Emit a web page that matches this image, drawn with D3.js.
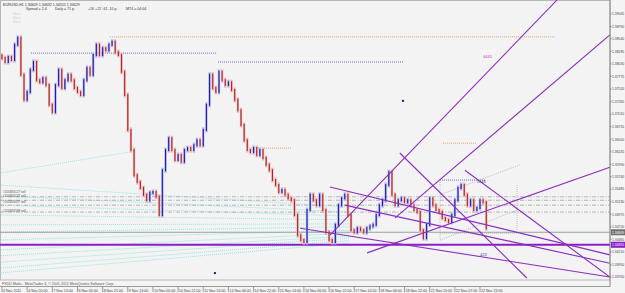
<!DOCTYPE html>
<html>
<head>
<meta charset="utf-8">
<script src="https://cdn.jsdelivr.net/npm/d3@7"></script>
<style>
  body { margin: 0; background: #f4f4f4; }
  svg { display: block; font-family: "Liberation Sans", Arial, sans-serif; }
</style>
</head>
<body>
<svg id="chart" width="625" height="293"></svg>
<script>
// EURUSD closes, one per bar (left to right)
const closes = [
  1.3815, 1.3807, 1.3817, 1.3811, 1.3842, 1.3856, 1.3781, 1.3730, 1.3746, 1.3791,
  1.3807, 1.3770, 1.3766, 1.3774, 1.3760, 1.3720, 1.3705, 1.3760, 1.3791, 1.3754,
  1.3770, 1.3781, 1.3770, 1.3754, 1.3746, 1.3740, 1.3770, 1.3795, 1.3781, 1.3821,
  1.3842, 1.3821, 1.3835, 1.3831, 1.3842, 1.3848, 1.3827, 1.3821, 1.3787, 1.3740,
  1.3669, 1.3628, 1.3577, 1.3563, 1.3551, 1.3537, 1.3526, 1.3541, 1.3543, 1.3533,
  1.3496, 1.3587, 1.3628, 1.3652, 1.3628, 1.3608, 1.3618, 1.3604, 1.3628, 1.3632,
  1.3628, 1.3638, 1.3648, 1.3638, 1.3669, 1.3720, 1.3781, 1.3754, 1.3746, 1.3787,
  1.3770, 1.3760, 1.3766, 1.3750, 1.3730, 1.3709, 1.3679, 1.3648, 1.3628, 1.3624,
  1.3632, 1.3618, 1.3628, 1.3612, 1.3598, 1.3587, 1.3567, 1.3557, 1.3543, 1.3547,
  1.3537, 1.3530, 1.3526, 1.3496, 1.3455, 1.3445, 1.3441, 1.3506, 1.3537, 1.3526,
  1.3516, 1.3537, 1.3506, 1.3461, 1.3445, 1.3441, 1.3476, 1.3516, 1.3530, 1.3537,
  1.3496, 1.3465, 1.3461, 1.3469, 1.3465, 1.3461, 1.3469, 1.3473, 1.3476, 1.3496,
  1.3516, 1.3526, 1.3557, 1.3583, 1.3537, 1.3516, 1.3526, 1.3530, 1.3522, 1.3526,
  1.3516, 1.3506, 1.3502, 1.3465, 1.3449, 1.3476, 1.3530, 1.3516, 1.3506, 1.3502,
  1.3490, 1.3486, 1.3482, 1.3496, 1.3526, 1.3551, 1.3557, 1.3537, 1.3516, 1.3526,
  1.3506, 1.3510, 1.3526, 1.3522, 1.3469
];
const firstOpen = 1.3820;

const timeLabels = [
  '4 Nov 2011', '4 Nov 20:00', '7 Nov 13:00', '8 Nov 05:00', '8 Nov 21:00',
  '9 Nov 13:00', '10 Nov 05:00', '10 Nov 21:00', '11 Nov 13:00', '14 Nov 06:00',
  '14 Nov 22:00', '15 Nov 14:00', '16 Nov 06:00', '16 Nov 22:00', '17 Nov 14:00',
  '18 Nov 06:00', '18 Nov 22:00', '21 Nov 15:00', '22 Nov 07:00', '22 Nov 23:00'
];
const priceTicks = [
  1.39045, 1.38790, 1.38540, 1.38285, 1.38030, 1.37775, 1.37520, 1.37265, 1.37010,
  1.36755, 1.36500, 1.36245, 1.35990, 1.35740, 1.35485, 1.35230, 1.34975, 1.34720,
  1.34465, 1.34210, 1.33950, 1.33700
];

const bidPrice = 1.34609;
const purpleLevel = 1.34355;

const orderLevels = [1.3533, 1.3526, 1.3516, 1.3502];
const orderNames = ['#205816127 sell', '#205816137 sell', '#205816697 sell', '#205816588 sell'];
const orderLabelPrices = [1.3541, 1.3532, 1.3520, 1.3503];

// dotted horizontal levels: [fromBar, toBar, price, colour]
const dottedLevels = [
  [34.3, 175.8, 1.3858, '#d08a5a'],
  [9.2, 68.4, 1.3825, '#4a4ab8'],
  [68.7, 127.8, 1.3807, '#4a4ab8'],
  [81.4, 92.2, 1.3632, '#d08a5a'],
  [140.2, 151.0, 1.3642, '#d08a5a'],
  [139.3, 153.6, 1.3567, '#4a4ab8']
];

// purple trend lines: [bar0, price0, bar1, price1]
const trendLines = [
  [104.3, 1.3455, 176.5, 1.3933],
  [125.0, 1.3490, 193.3, 1.3862],
  [116.1, 1.3419, 193.3, 1.3593],
  [126.5, 1.3622, 166.9, 1.3368],
  [104.3, 1.3553, 193.3, 1.3415],
  [109.0, 1.3516, 193.3, 1.3398],
  [94.8, 1.3469, 193.3, 1.3370],
  [147.2, 1.3587, 193.3, 1.3370]
];

// cyan dotted fan lines: [bar0, price0, bar1, price1]
const cyanLines = [
  [-1, 1.3581, 40.7, 1.3624],
  [-1, 1.3557, 110.6, 1.3512],
  [-1, 1.3535, 110.6, 1.3502],
  [-1, 1.3516, 110.6, 1.3494],
  [-1, 1.3496, 110.6, 1.3486],
  [-1, 1.3476, 110.6, 1.3478],
  [-1, 1.3461, 110.6, 1.3472],
  [-1, 1.3445, 110.6, 1.3465],
  [-1, 1.3425, 110.6, 1.3459],
  [-1, 1.3413, 110.6, 1.3453],
  [-1, 1.3400, 110.6, 1.3449],
  [-1, 1.3388, 110.6, 1.3444],
  [-1, 1.3378, 110.6, 1.3439]
];

// grey dotted channel lines
const channelLines = [
  [139.3, 1.3445, 163.8, 1.3506],
  [139.3, 1.3537, 164.7, 1.3598],
  [139.3, 1.3567, 139.3, 1.3445],
  [163.8, 1.3557, 163.8, 1.3465],
  [139.3, 1.3459, 163.8, 1.3459]
];

const notes = [
  [153, 1.3815, '6445', '#c040c0'],
  [151, 1.3562, '1048', '#4040b0'],
  [152, 1.3412, '423', '#4040b0']
];
const markers = [[67.7, 1.3378], [127.5, 1.3728]];

const svg = d3.select('#chart');
const W = 625, H = 293;
const axisX = 610, plotBottom = 280;
const fs = 3.6;

const x = d3.scaleLinear().domain([0, 152]).range([2, 480]);
const y = d3.scaleLinear().domain([1.33700, 1.39045]).range([277, 14]);

svg.append('rect').attr('width', W).attr('height', H).attr('fill', '#f4f4f4');
svg.append('rect').attr('x', 0.5).attr('y', 0.5).attr('width', axisX - 0.5).attr('height', plotBottom - 0.5)
  .attr('fill', '#f3f3f3').attr('stroke', '#b8b8b8');

const clip = svg.append('clipPath').attr('id', 'clip');
clip.append('rect').attr('x', 0).attr('y', 0).attr('width', axisX).attr('height', plotBottom);
const plot = svg.append('g').attr('clip-path', 'url(#clip)');

const seg = (g, d, color, w, dash) => g.append('line')
  .attr('x1', x(d[0])).attr('y1', y(d[1])).attr('x2', x(d[2])).attr('y2', y(d[3]))
  .attr('stroke', color).attr('stroke-width', w).attr('stroke-dasharray', dash || null);

const tinyText = (g, px, py, str, color, size) => g.append('text')
  .attr('x', px).attr('y', py).attr('font-size', size || fs).attr('fill', color).text(str);

// cyan fan
cyanLines.forEach(d => seg(plot, d, '#7fdede', 0.8, '1,1'));

// order levels
orderLevels.forEach(p => {
  plot.append('line').attr('x1', 0).attr('x2', axisX).attr('y1', y(p)).attr('y2', y(p))
    .attr('stroke', '#9a9a9a').attr('stroke-width', 0.7).attr('stroke-dasharray', '4,1.5,1,1.5');
});
orderNames.forEach((t, i) => tinyText(plot, 3, y(orderLabelPrices[i]), t, '#555', 3.1));

// bid line and purple level
plot.append('line').attr('x1', 0).attr('x2', axisX).attr('y1', y(bidPrice)).attr('y2', y(bidPrice))
  .attr('stroke', '#8c9a9a').attr('stroke-width', 0.9);
plot.append('line').attr('x1', 0).attr('x2', axisX).attr('y1', y(purpleLevel)).attr('y2', y(purpleLevel))
  .attr('stroke', '#8a1fc8').attr('stroke-width', 2);

// dotted levels
dottedLevels.forEach(d => {
  plot.append('line').attr('x1', x(d[0])).attr('x2', x(d[1])).attr('y1', y(d[2])).attr('y2', y(d[2]))
    .attr('stroke', d[3]).attr('stroke-width', 0.8).attr('stroke-dasharray', '1,1');
});

channelLines.forEach(d => seg(plot, d, '#a8a8a8', 0.7, '1,1'));

// candles
const bars = closes.map((c, i) => ({ i, o: i === 0 ? firstOpen : closes[i - 1], c }));
const cw = 2.3;
const candle = plot.selectAll('g.bar').data(bars).enter().append('g');
candle.append('rect')
  .attr('x', d => x(d.i) - cw / 2)
  .attr('y', d => Math.min(y(d.o), y(d.c)) - 2.5)
  .attr('width', cw)
  .attr('height', d => Math.abs(y(d.o) - y(d.c)) + 5)
  .attr('fill', d => d.c >= d.o ? '#b0b0e8' : '#eeb0b0');
candle.append('line')
  .attr('x1', d => x(d.i)).attr('x2', d => x(d.i))
  .attr('y1', d => Math.min(y(d.o), y(d.c)) - 1)
  .attr('y2', d => Math.max(y(d.o), y(d.c)) + 1)
  .attr('stroke', d => d.c >= d.o ? '#1c1cb0' : '#a82a2a')
  .attr('stroke-width', 1.1);

// trend lines
trendLines.forEach(d => seg(plot, d, '#8a2cc0', 1.1));

notes.forEach(d => tinyText(plot, x(d[0]), y(d[1]), d[2], d[3], 4));
markers.forEach(d => {
  plot.append('rect').attr('x', x(d[0]) - 1).attr('y', y(d[1]) - 1).attr('width', 2).attr('height', 2)
    .attr('fill', '#1a1a80');
});

// header
tinyText(svg, 3, 5.5, 'EURUSD,H1  1.34609 1.34632 1.34555 1.34629', '#333');
[['Spread = 2.4', 26], ['Daily  = 71 p.', 55], ['+16 +22 -61 -10 p.', 88], ['MT4  = 04:04', 126]]
  .forEach(t => tinyText(svg, t[1], 10, t[0], '#333'));
[14.5, 18.5, 22.5].forEach(v => tinyText(svg, 13, v, 'Next', '#d0d0d0'));

// price axis
svg.append('line').attr('x1', axisX).attr('x2', axisX).attr('y1', 0).attr('y2', 287)
  .attr('stroke', '#888').attr('stroke-width', 1);
const yAxis = svg.append('g');
priceTicks.forEach(p => {
  yAxis.append('line').attr('x1', axisX).attr('x2', axisX + 1.5).attr('y1', y(p)).attr('y2', y(p)).attr('stroke', '#888');
  tinyText(yAxis, axisX + 2, y(p) + 1.3, p.toFixed(5), '#444', 3.4);
});
[[bidPrice, '#707070'], [purpleLevel, '#8a1fc8']].forEach(d => {
  yAxis.append('rect').attr('x', axisX + 1).attr('y', y(d[0]) - 3).attr('width', 14).attr('height', 6).attr('fill', d[1]);
  tinyText(yAxis, axisX + 2, y(d[0]) + 1.3, d[0].toFixed(5), '#fff', 3.4);
});

// footer
tinyText(svg, 2, 284.5, 'FXDD Malta - MetaTrader 4, \u00a9 2001-2011 MetaQuotes Software Corp.', '#555');
svg.append('line').attr('x1', 0).attr('x2', axisX).attr('y1', 286.5).attr('y2', 286.5).attr('stroke', '#999');
const xAxis = svg.append('g');
timeLabels.forEach((t, k) => {
  const px = x(k * 8);
  xAxis.append('line').attr('x1', px).attr('x2', px).attr('y1', 287).attr('y2', 292).attr('stroke', '#999');
  tinyText(xAxis, px + 1, 291.5, t, '#444');
});
</script>
</body>
</html>
